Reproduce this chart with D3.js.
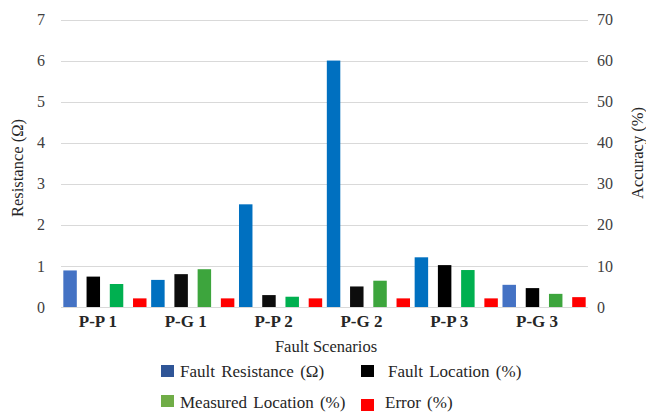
<!DOCTYPE html>
<html>
<head>
<meta charset="utf-8">
<script src="https://cdn.jsdelivr.net/npm/d3@7"></script>
<style>
  html, body { margin: 0; padding: 0; background: #fff; }
  svg { display: block; }
</style>
</head>
<body>
<svg id="chart" width="646" height="412"></svg>
<script>
// Fault scenarios on the x axis
const scenarios = ["P-P 1", "P-G 1", "P-P 2", "P-G 2", "P-P 3", "P-G 3"];

// Series values
const faultResistance = [0.89, 0.66, 2.5, 6.0, 1.21, 0.54];   // Ω, left axis
const faultLocation   = [7.4, 8.0, 2.9, 5.0, 10.2, 4.6];       // %, right axis
const measuredLocation = [5.6, 9.2, 2.5, 6.4, 9.0, 3.2];       // %, right axis
const errorPct        = [2.1, 2.1, 2.1, 2.1, 2.1, 2.4];        // %, right axis

const seriesNames = ["Fault Resistance (Ω)", "Fault Location (%)", "Measured Location (%)", "Error (%)"];

// Tick labels
const leftTicks = [0, 1, 2, 3, 4, 5, 6, 7];
const rightTicks = [0, 10, 20, 30, 40, 50, 60, 70];

// Bar fills per scenario and legend swatch fills
const resistanceFills = ["#4472C4", "#0070C0", "#0070C0", "#0070C0", "#0070C0", "#4472C4"];
const locationFills = ["#000000", "#0D0D0D", "#0D0D0D", "#0D0D0D", "#000000", "#000000"];
const measuredFills = ["#00B050", "#3DA53D", "#00B050", "#3DA53D", "#00B050", "#3DA53D"];
const errorFills = ["#FF0000", "#FF0000", "#FF0000", "#FF0000", "#FF0000", "#FF0000"];
const legendFills = ["#2F5597", "#000000", "#70AD47", "#FF0000"];

const FONT = "'Liberation Serif', 'Times New Roman', serif";

const svg = d3.select("#chart");
const plot = { left: 61, right: 588, top: 19.5, bottom: 307 };

const x0 = d3.scaleBand().domain(scenarios).range([plot.left, plot.right]).padding(0);
const x1 = d3.scaleBand().domain(d3.range(4)).range([0, x0.bandwidth()])
  .paddingInner(0.42).paddingOuter(0.1);
const yLeft = d3.scaleLinear().domain([0, 7]).range([plot.bottom, plot.top]);
const yRight = d3.scaleLinear().domain([0, 70]).range([plot.bottom, plot.top]);

// Gridlines
svg.append("g")
  .selectAll("line")
  .data(leftTicks)
  .join("line")
  .attr("x1", plot.left).attr("x2", plot.right)
  .attr("y1", d => Math.round(yLeft(d)) + 0.5)
  .attr("y2", d => Math.round(yLeft(d)) + 0.5)
  .attr("stroke", "#D9D9D9").attr("stroke-width", 1);

// Left axis
const leftAxis = svg.append("g")
  .attr("transform", `translate(${plot.left},0)`)
  .call(d3.axisLeft(yLeft).tickValues(leftTicks).tickSize(0).tickPadding(16).tickFormat(d3.format("d")));
leftAxis.attr("font-family", null).attr("font-size", null);
leftAxis.select(".domain").remove();
leftAxis.selectAll("text").style("font-family", FONT).style("font-size", "16px").attr("fill", "#404040");

// Right axis
const rightAxis = svg.append("g")
  .attr("transform", `translate(${plot.right},0)`)
  .call(d3.axisRight(yRight).tickValues(rightTicks).tickSize(0).tickPadding(9).tickFormat(d3.format("d")));
rightAxis.attr("font-family", null).attr("font-size", null);
rightAxis.select(".domain").remove();
rightAxis.selectAll("text").style("font-family", FONT).style("font-size", "16px").attr("fill", "#404040");

// Bars
const series = [
  { values: faultResistance, fills: resistanceFills, scale: yLeft },
  { values: faultLocation, fills: locationFills, scale: yRight },
  { values: measuredLocation, fills: measuredFills, scale: yRight },
  { values: errorPct, fills: errorFills, scale: yRight }
];

series.forEach((s, si) => {
  svg.append("g")
    .selectAll("rect")
    .data(scenarios.map((c, i) => ({ c, v: s.values[i], f: s.fills[i] })))
    .join("rect")
    .attr("x", d => x0(d.c) + x1(si))
    .attr("width", x1.bandwidth())
    .attr("y", d => s.scale(d.v))
    .attr("height", d => plot.bottom - s.scale(d.v))
    .attr("fill", d => d.f);
});

// Category axis (labels sit slightly left of the group centre)
const bottomAxis = svg.append("g")
  .attr("transform", `translate(0,${plot.bottom})`)
  .call(d3.axisBottom(x0).tickSize(0).tickPadding(8));
bottomAxis.attr("font-family", null).attr("font-size", null);
bottomAxis.select(".domain").remove();
bottomAxis.selectAll("text").attr("dx", -7)
  .style("font-family", FONT).style("font-size", "17px")
  .style("font-weight", "bold").attr("fill", "#262626");

// Axis titles
const title = (sel) => sel.style("font-family", FONT).style("font-size", "16.5px")
  .attr("text-anchor", "middle").attr("fill", "#262626");

svg.append("text")
  .attr("x", 326).attr("y", 352)
  .call(title)
  .text("Fault Scenarios");

svg.append("text")
  .attr("transform", "translate(23,168) rotate(-90)")
  .call(title)
  .text("Resistance (Ω)");

svg.append("text")
  .attr("transform", "translate(643,153) rotate(-90)")
  .call(title)
  .text("Accuracy (%)");

// Legend
const legendItems = [
  { name: seriesNames[0], fill: legendFills[0], sx: 161, sy: 365, tx: 180, ty: 377 },
  { name: seriesNames[1], fill: legendFills[1], sx: 361, sy: 365, tx: 388, ty: 377 },
  { name: seriesNames[2], fill: legendFills[2], sx: 161, sy: 395, tx: 180, ty: 408 },
  { name: seriesNames[3], fill: legendFills[3], sx: 361, sy: 399, tx: 385, ty: 408 }
];
const legend = svg.append("g");
legend.selectAll("rect")
  .data(legendItems)
  .join("rect")
  .attr("x", d => d.sx).attr("y", d => d.sy)
  .attr("width", 13).attr("height", 12)
  .attr("fill", d => d.fill);
legend.selectAll("text")
  .data(legendItems)
  .join("text")
  .attr("x", d => d.tx).attr("y", d => d.ty)
  .style("font-family", FONT).style("font-size", "17px")
  .style("word-spacing", "2px")
  .attr("fill", "#262626")
  .text(d => d.name);
</script>
</body>
</html>
